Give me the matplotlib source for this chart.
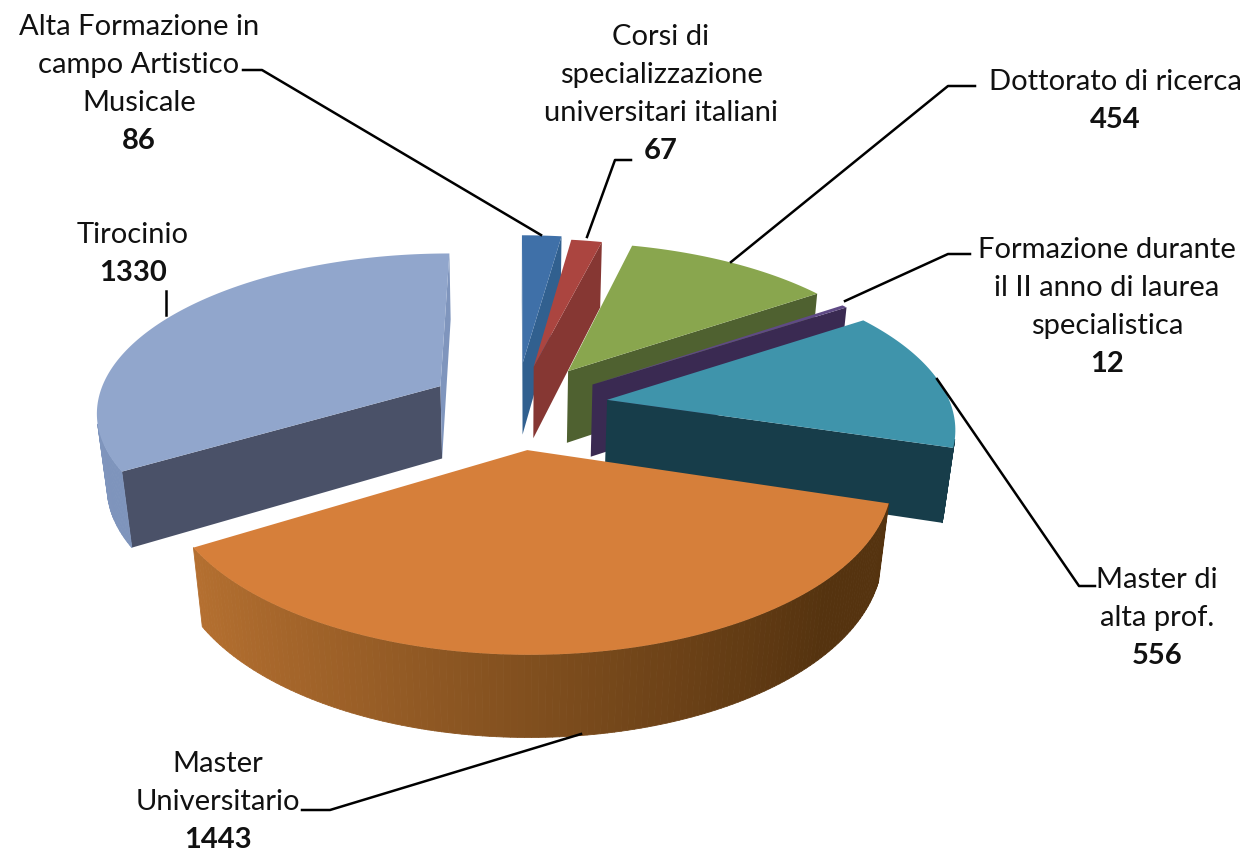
import numpy as np
import matplotlib
matplotlib.use("Agg")
import matplotlib.pyplot as plt
from matplotlib.collections import PolyCollection
from matplotlib.colors import to_rgb

plt.rcParams['font.family'] = ['Lato', 'DejaVu Sans']

categories = ["Alta Formazione in\ncampo Artistico\nMusicale", "Corsi di\nspecializzazione\nuniversitari italiani",
              "Dottorato di ricerca", "Formazione durante\nil II anno di laurea\nspecialistica",
              "Master di\nalta prof.", "Master\nUniversitario", "Tirocinio"]
values = [86, 67, 454, 12, 556, 1443, 1330]

explode = [0.25, 0.25, 0.27, 0.26, 0.275, 0.30, 0.236]
nudge = [(3, 0), (4, 3), (3, 4), (6, 6), (0, 5), (0, 0), (-4, 3)]
top_colors = ['#3f70a8', '#ab4540', '#89a64e', '#5f4a85', '#3f94ab', '#d67f3a', '#91a6cc']
cut_colors = ['#31608f', '#863733', '#4f6130', '#3a2a52', '#173d4a', '#5a3512', '#4a5168']
wall_light = ['#3c6fa6', '#a9443f', '#7a9245', '#4f3a6e', '#2a6577', '#bd7533', '#7f95bd']
wall_dark = ['#2d5580', '#7f3431', '#4f6130', '#33264a', '#173d4a', '#55330f', '#7386ad']
label_xy = [(139, 84), (661, 94), (1115, 101), (1107, 307), (1157, 618), (218, 802), (133, 254)]
leaders = [[(243, 71), (262, 71), (541, 236)], [(631, 161), (615, 161), (587, 238)],
           [(975, 87), (948, 87), (731, 263)], [(970, 255), (948, 255), (845, 302)],
           [(1095, 587), (1079, 587), (937, 380)], [(302, 811), (330, 811), (581, 735)],
           [(166, 292), (166, 316)]]

CX, CY = 514.0, 402.0
A, B, H = 344.0, 157.5, 75.0
K, M = 0.15, 0.025


def project(u, v, z, off=(0, 0)):
    d = 1 - K * v + M * z
    return CX + off[0] + A * u / d, CY + off[1] + (B * v + H * z) / d


def area(p):
    p = np.asarray(p)
    x, y = p[:, 0], p[:, 1]
    return np.sum(x * np.roll(y, -1) - np.roll(x, -1) * y)


fig = plt.figure(figsize=(12.47, 8.53), dpi=100, facecolor='white')
ax = fig.add_axes([0, 0, 1, 1])
ax.set_xlim(0, 1247)
ax.set_ylim(853, 0)
ax.axis('off')

fractions = np.array(values) / np.sum(values)
edges = np.concatenate([[0], np.cumsum(fractions)]) * 2 * np.pi

for i in range(len(values)):
    t0, t1 = edges[i], edges[i + 1]
    tm = (t0 + t1) / 2
    off = nudge[i]
    ou, ov = explode[i] * np.sin(tm), -explode[i] * np.cos(tm)
    ts = np.linspace(t0, t1, max(4, int((t1 - t0) * 60)))
    us, vs = ou + np.sin(ts), ov - np.cos(ts)
    top = [project(ou, ov, 0, off)] + [project(a, b, 0, off) for a, b in zip(us, vs)]
    tip_t, tip_b = project(ou, ov, 0, off), project(ou, ov, 1, off)
    for t, sign in ((0, -1), (-1, 1)):
        q = [tip_t, project(us[t], vs[t], 0, off), project(us[t], vs[t], 1, off), tip_b]
        if area(q) * sign > 0:
            ax.add_collection(PolyCollection([q], facecolors=cut_colors[i] if t == 0 or i < 5 else wall_light[i],
                                             edgecolors='none', zorder=i * 3 + 1))
    quads, cols = [], []
    cl, cd = np.array(to_rgb(wall_light[i])), np.array(to_rgb(wall_dark[i]))
    for j in range(len(ts) - 1):
        q = [project(us[j], vs[j], 0, off), project(us[j + 1], vs[j + 1], 0, off),
             project(us[j + 1], vs[j + 1], 1, off), project(us[j], vs[j], 1, off)]
        if area(q) < 0:
            quads.append(q)
            s = np.clip((np.sin((ts[j] + ts[j + 1]) / 2) + 1) / 2 * 1.15, 0, 1)
            cols.append(cl * (1 - s) + cd * s)
    if quads:
        ax.add_collection(PolyCollection(quads, facecolors=cols, edgecolors=cols, linewidths=0.6, zorder=i * 3 + 2))
    ax.add_collection(PolyCollection([top], facecolors=top_colors[i], edgecolors='none', zorder=i * 3 + 3))

for i, path in enumerate(leaders):
    xs, ys = zip(*path)
    ax.plot(xs, ys, color='black', lw=1.8, zorder=40)

for i, (x, y) in enumerate(label_xy):
    lines = categories[i].split("\n")
    n = len(lines)
    step = 38.2
    y0 = y - step * n / 2
    for k, s in enumerate(lines):
        ax.text(x, y0 + k * step, s, ha='center', va='center', fontsize=21, color='#111111', zorder=50)
    ax.text(x, y0 + n * step, str(values[i]), ha='center', va='center', fontsize=21,
            fontweight='bold', color='#111111', zorder=50)

fig.savefig('out.png', dpi=100, facecolor='white')
